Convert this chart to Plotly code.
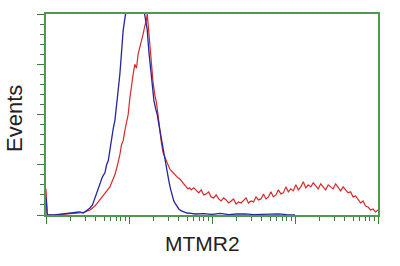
import plotly.graph_objects as go

# log10 fluorescence intensity (decades) and event counts (% of axis)
blue_log_x = [0, 0.015, 0.1, 0.2, 0.3, 0.4, 0.45, 0.5, 0.53, 0.56, 0.59, 0.62, 0.65, 0.68,
              0.71, 0.73, 0.75, 0.77, 0.79, 0.81, 0.83, 0.85, 0.87, 0.89, 0.91, 0.93, 0.96,
              1.0, 1.05, 1.1, 1.15, 1.19, 1.22, 1.24, 1.26, 1.28, 1.30, 1.32, 1.34, 1.36,
              1.38, 1.40, 1.42, 1.44, 1.46, 1.48, 1.50, 1.52, 1.54, 1.56, 1.58, 1.60, 1.63,
              1.66, 1.70, 1.75, 1.8, 1.9, 2.0, 2.1, 2.2, 2.3, 2.4, 2.5, 2.6, 2.7, 2.8, 2.9, 3.0]
blue_counts = [9, 0, 0, 0.5, 1, 1.5, 1, 2.5, 3.5, 5, 8.5, 12, 16, 19,
               21, 25, 27, 33, 38, 43, 47, 54, 62, 70, 81, 92, 100.5,
               112, 125, 122, 110, 100.5, 92, 81, 73, 66, 57, 53, 50, 45,
               40, 36, 30, 25, 21, 17, 13, 10, 7, 5.5, 4, 3, 2,
               1.5, 1, 0.8, 0.5, 0.7, 0.3, 0.8, 0.2, 0.5, 0.6, 0.2, 0.4, 0.3, 0.6, 0.2, 0]

red_log_x = [0, 0.015, 0.1, 0.2, 0.3, 0.4, 0.47, 0.53, 0.56, 0.59, 0.62, 0.65, 0.68, 0.71,
             0.74, 0.77, 0.80, 0.83, 0.85, 0.87, 0.89, 0.91, 0.93, 0.95, 0.97, 0.99, 1.01,
             1.03, 1.05, 1.07, 1.09, 1.11, 1.13, 1.15, 1.17, 1.19, 1.21, 1.22, 1.23, 1.25,
             1.27, 1.29, 1.31, 1.33, 1.35, 1.37, 1.39, 1.41, 1.43, 1.45, 1.47, 1.49, 1.51,
             1.53, 1.55, 1.57, 1.59, 1.61, 1.63, 1.65, 1.67, 1.69, 1.71, 1.73,
             1.75, 1.78, 1.81, 1.84, 1.87, 1.90, 1.93, 1.96, 1.99, 2.02, 2.05, 2.08, 2.11,
             2.14, 2.17, 2.20, 2.23, 2.26, 2.29, 2.32, 2.35, 2.38, 2.41, 2.44, 2.47, 2.50,
             2.53, 2.56, 2.59, 2.62, 2.65, 2.68, 2.71, 2.74, 2.77, 2.80, 2.83, 2.86, 2.89,
             2.92, 2.95, 2.98, 3.01, 3.04, 3.07, 3.10, 3.13, 3.16, 3.19, 3.22, 3.25, 3.28,
             3.31, 3.34, 3.37, 3.40, 3.43, 3.46, 3.49, 3.52, 3.55, 3.58, 3.61, 3.64, 3.67,
             3.70, 3.73, 3.76, 3.79, 3.82, 3.85, 3.88, 3.91, 3.94, 3.97, 4.0]
red_counts = [13, 0, 0, 0.3, 0.5, 1, 1.5, 2.5, 3.5, 4.5, 6, 7.5, 9, 10.5,
              12, 14, 17, 20, 23, 26, 30, 35, 37, 42, 46, 50, 58,
              65, 70, 75, 73, 80, 83, 86, 90, 94, 97, 100, 95, 85,
              76, 66, 60, 56, 50, 42, 36, 31, 29, 27, 25, 23, 22,
              21, 20.5, 19, 18.5, 18, 17, 16, 15, 14.5, 13, 13.5,
              12.5, 13.5, 12, 11, 12.5, 10, 10.5, 11.5, 9, 8.5, 10, 8, 7,
              8.5, 7.5, 6, 7, 8, 5.5, 6.5, 6, 7.5, 8.5, 6, 7, 6.5,
              9, 7.5, 8, 10.5, 8, 9, 11.5, 9, 10, 12.5, 10.5, 11, 14,
              11.5, 13, 12, 15, 12.5, 14, 16.5, 13.5, 15, 14, 16, 14.5, 13,
              15.5, 14, 12.5, 15, 14, 13, 15.5, 13.5, 12, 14, 12.5, 11, 11.5,
              9, 9.5, 7.5, 6, 7, 4.5, 4, 2.5, 3, 1.5, 2.5]

major_ticks_x = [1, 10, 100, 1000, 10000]
major_ticks_y = [0, 25, 50, 75, 100]

GREEN = "#4f9a4f"
TICK = "#3f7a3f"

fig = go.Figure()
fig.add_trace(go.Scatter(x=[10 ** v for v in red_log_x], y=red_counts, mode="lines",
                         line=dict(color="#d42b2b", width=1.2), showlegend=False))
fig.add_trace(go.Scatter(x=[10 ** v for v in blue_log_x], y=blue_counts, mode="lines",
                         line=dict(color="#26269c", width=1.3), showlegend=False))

minor_x = [k * 10 ** d for d in range(4) for k in range(2, 10)]

fig.update_layout(
    width=400, height=266,
    margin=dict(l=46, r=22, t=14, b=51),
    paper_bgcolor="white", plot_bgcolor="white",
    font=dict(family="Liberation Sans, Arial, sans-serif", color="#222"),
    xaxis=dict(type="log", range=[0, 4], showgrid=False, zeroline=False,
               showline=True, linecolor=GREEN, linewidth=1.6, mirror=True,
               ticks="outside", tickvals=major_ticks_x, ticklen=7, tickcolor=TICK, tickwidth=1,
               showticklabels=False,
               minor=dict(tickvals=minor_x, ticks="outside", ticklen=4, tickcolor=TICK, tickwidth=1,
                          showgrid=False)),
    yaxis=dict(range=[0, 100], showgrid=False, zeroline=False,
               showline=True, linecolor=GREEN, linewidth=1.6, mirror=True,
               ticks="outside", tickvals=major_ticks_y, ticklen=7, tickcolor=TICK, tickwidth=1,
               showticklabels=False,
               minor=dict(dtick=5, ticks="outside", ticklen=4, tickcolor=TICK, tickwidth=1,
                          showgrid=False)),
    annotations=[
        dict(text="MTMR2", xref="paper", yref="paper", x=0.47, y=-0.144,
             xanchor="center", yanchor="middle", showarrow=False,
             font=dict(size=21, color="#222")),
        dict(text="Events", xref="paper", yref="paper", x=-0.0934, y=0.4826,
             xanchor="center", yanchor="middle", showarrow=False, textangle=-90,
             font=dict(size=22, color="#222")),
    ],
)

fig.write_html("out.html")
